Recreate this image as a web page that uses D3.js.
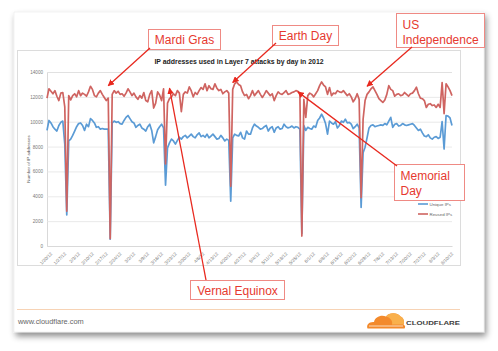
<!DOCTYPE html>
<html>
<head>
<meta charset="utf-8">
<script src="https://cdnjs.cloudflare.com/ajax/libs/d3/7.8.5/d3.min.js"></script>
<style>
body { margin: 0; background: #fff; }
svg { display: block; }
</style>
</head>
<body>
<svg id="chart" width="498" height="351"></svg>
<script>
var width = 498
var height = 351
var plot = { left: 47, right: 452, top: 72, bottom: 246 }

// data: one value per day, starting 1/20/2012
var firstDay = new Date(2012, 0, 20)
var reusedIPs = [
  11900, 12650, 12450, 12250, 12500, 12050, 11700, 12300, 12350, 11200,
  2800,
  12100, 11750, 12100, 12250, 12000, 12500, 12100, 12300, 12200, 12050, 12400, 12850, 12600, 12100, 12000, 12300, 12500, 12200, 11950, 11700, 11900,
  600,
  12200, 12500, 12300, 12450, 12200, 12250, 12050, 12300, 12650, 12400, 12100, 12300, 12000, 11800, 12100, 11900, 12350, 11700, 11600, 12200, 12500, 11100, 11500, 12400, 12150, 11700, 12650,
  6600,
  11500, 11850, 12000, 12250, 12100, 12500, 12300, 10800, 12200, 12400, 12300, 12800, 12500, 12000, 12350, 12200, 12500, 12750, 12600, 13050, 12500, 12900, 12650, 12600, 13050, 12700, 12500, 12600, 12250, 12400, 12500, 12300,
  4800,
  12600, 13050, 13200, 13000, 12900, 12400, 12100, 12200, 11850, 12100, 12500, 12100, 12300, 12500, 12200, 11950, 12200, 12500, 12300, 12100, 12250, 11700, 12100, 12400, 12250, 12200, 12350, 12500, 12200, 12250, 12350, 12400, 12500, 12450, 12300,
  800,
  11800, 10350, 12100, 12300, 12200, 12000, 12250, 12500, 12900, 13200, 12950, 12800, 12200, 12750, 12100, 12300, 12250, 12500, 12400, 12350, 12500, 12300, 12100, 12250, 12000, 11600, 11850, 12250, 11800,
  3900,
  10200, 11700, 12200, 12400, 12650, 12800, 12500, 12200, 11850, 11700, 11550, 11750, 12200, 12900, 12600, 12500, 12050, 12200, 12250, 12100, 12150, 12350, 12200, 12050, 12250, 12300, 12500, 12780, 12250, 11900, 11850, 11700, 11150, 11400, 11450, 11300, 11350, 11150, 11400, 11150, 13150, 10650, 13050, 12800, 12500, 12100
]
var uniqueIPs = [
  9300, 10100, 9900, 9600, 9400, 9250, 9700, 9950, 10050, 8200,
  2500,
  8450, 8600, 8900, 9250, 9600, 9850, 9900, 9700, 9300, 9800, 9600, 10250, 10100, 9900, 9550, 9600, 9400, 9450, 9400, 9400, 9400,
  550,
  9900, 10050, 9950, 10000, 9850, 9800, 10100, 10350, 10500, 10250, 10000, 9900, 9550, 9700, 9800, 9500, 9400, 9250, 9600, 9800, 9300, 8300, 8800, 9350, 9600, 9800, 9500,
  4900,
  7900, 8300, 8600, 8450, 8200, 8500, 8750, 8600, 8800, 8900, 8700, 8850, 9000, 8800, 8700, 8950, 9100, 8800, 8900, 8750, 9000, 8700, 8850, 9000, 8800, 8600, 8650, 8900, 8700, 8450, 8600, 8500,
  3600,
  8700, 9000, 8900, 8850, 9150, 8700, 8600, 9250, 9000, 9000, 9500, 9800, 9650, 9550, 9400, 9450, 9600, 9700, 9250, 9500, 9600, 9150, 9500, 9600, 9400, 9450, 9800, 9600, 9500, 9550, 9650, 9500, 9600, 9550, 9400,
  1000,
  9700, 9300, 9550, 9450, 9400, 9650, 9550, 10100, 10300, 10600, 10300, 9850, 9000, 10050, 9900, 9800, 10000, 9500, 9700, 10050, 9950, 10200, 9900, 9950, 9800, 9450, 9600, 9800, 9500,
  3100,
  7500, 7950, 8700, 9500, 9700, 9750, 9600, 9650, 9700, 9750, 9700, 9850, 9750, 10050, 10350, 9550, 9800, 9850, 9650, 9700, 9850, 9750, 9700, 9750, 9800, 9850, 9700, 9500, 9300, 9400, 9100, 8850, 8800, 8950, 8700, 8600, 8750, 8800, 8650, 8750, 10000, 7800, 10500, 10450, 10300, 9700
]
var yTicks = [0, 2000, 4000, 6000, 8000, 10000, 12000, 14000]
var seriesNames = ["Unique IPs", "Reused IPs"]
var seriesColors = ["#5b9bd5", "#cf6461"]

// callouts: label lines, where the arrow points (date, value)
var noteLabels = [["Mardi Gras"], ["Earth Day"], ["US", "Independence"], ["Memorial", "Day"], ["Vernal Equinox"]]
var noteDates = [new Date(2012, 1, 20), new Date(2012, 3, 23), new Date(2012, 5, 30), new Date(2012, 4, 26), new Date(2012, 2, 22)]
var noteValues = [12900, 13150, 12850, 12400, 12700]

var svg = d3.select("#chart")

var defs = svg.append("defs")
var shadow = defs.append("filter").attr("id", "shadow")
  .attr("x", "-5%").attr("y", "-5%").attr("width", "115%").attr("height", "120%")
shadow.append("feDropShadow").attr("dx", 2).attr("dy", 4).attr("stdDeviation", 3)
  .attr("flood-color", "#000").attr("flood-opacity", 0.45)
defs.append("marker").attr("id", "arrow")
  .attr("viewBox", "0 0 10 10").attr("refX", 9).attr("refY", 5)
  .attr("markerWidth", 5).attr("markerHeight", 5).attr("orient", "auto")
  .append("path").attr("d", "M0,0 L10,5 L0,10 z").attr("fill", "#e8291f")

// slide
svg.append("rect").attr("x", 14).attr("y", 12).attr("width", 470).attr("height", 320)
  .attr("fill", "#fff").attr("stroke", "#e6e6e6").attr("stroke-width", 0.5)
  .attr("filter", "url(#shadow)")

// chart area
svg.append("rect").attr("x", 17.5).attr("y", 50.5).attr("width", 443).attr("height", 215)
  .attr("fill", "#fff").attr("stroke", "#dcdcdc").attr("stroke-width", 1)

var lastDay = d3.timeDay.offset(firstDay, reusedIPs.length - 1)
var xScale = d3.scaleTime().domain([firstDay, lastDay]).range([plot.left, plot.right])
var yScale = d3.scaleLinear().domain([0, 14000]).range([plot.bottom, plot.top])

// gridlines + y labels
var yAxis = d3.axisLeft(yScale).tickValues(yTicks).tickFormat(d3.format("d"))
  .tickSize(-(plot.right - plot.left)).tickPadding(4)
var gy = svg.append("g").attr("transform", "translate(" + plot.left + ",0)").call(yAxis)
gy.select(".domain").attr("stroke", "#d9d9d9")
gy.selectAll(".tick line").attr("stroke", "#e3e3e3").attr("stroke-width", 0.8)
gy.selectAll(".tick text").attr("fill", "#777").attr("font-size", 4.6)
  .attr("font-family", "Liberation Sans, Arial, sans-serif")

// x axis
var xTicks = d3.timeDay.range(firstDay, d3.timeDay.offset(lastDay, 1), 7)
var xAxis = d3.axisBottom(xScale).tickValues(xTicks).tickFormat(d3.timeFormat("%-m/%-d/%y")).tickSize(0)
var gx = svg.append("g").attr("transform", "translate(0," + plot.bottom + ")").call(xAxis)
gx.select(".domain").attr("stroke", "#d9d9d9")
gx.selectAll(".tick text").attr("fill", "#777").attr("font-size", 4.6)
  .attr("font-family", "Liberation Sans, Arial, sans-serif")
  .attr("text-anchor", "end").attr("dy", 0)
  .attr("transform", "translate(3,6) rotate(-45)")

// titles
svg.append("text").attr("x", 239).attr("y", 63.5).attr("text-anchor", "middle")
  .attr("font-family", "Liberation Sans, Arial, sans-serif").attr("font-weight", "bold")
  .attr("font-size", 6.9).attr("fill", "#222")
  .text("IP addresses used in Layer 7 attacks by day in 2012")
svg.append("text").attr("transform", "translate(29.5," + ((plot.top + plot.bottom) / 2) + ") rotate(-90)")
  .attr("text-anchor", "middle").attr("font-family", "Liberation Sans, Arial, sans-serif")
  .attr("font-size", 4.4).attr("fill", "#555").text("Number of IP addresses")

// lines
var line = d3.line()
  .x(function (d, i) { return xScale(d3.timeDay.offset(firstDay, i)) })
  .y(function (d) { return yScale(d) })
  .curve(d3.curveLinear)
var allSeries = [uniqueIPs, reusedIPs]
svg.append("g").selectAll("path").data(allSeries).enter().append("path")
  .attr("d", line)
  .attr("fill", "none")
  .attr("stroke", function (d, i) { return seriesColors[i] })
  .attr("stroke-width", 1.7)
  .attr("stroke-linejoin", "round")

// legend
var legend = svg.append("g").attr("transform", "translate(418,204)")
seriesNames.forEach(function (name, i) {
  legend.append("line").attr("x1", 0).attr("x2", 10).attr("y1", i * 10).attr("y2", i * 10)
    .attr("stroke", seriesColors[i]).attr("stroke-width", 1.6)
  legend.append("text").attr("x", 11.5).attr("y", i * 10 + 1.6)
    .attr("font-family", "Liberation Sans, Arial, sans-serif").attr("font-size", 4.4)
    .attr("fill", "#666").text(name)
})

// callout boxes (x, y, w, h) and arrow starts
var boxes = [[148.5, 29.5, 72, 20], [272.5, 25.5, 66, 20], [396.5, 13.5, 88, 34], [394.5, 164.5, 70, 36], [190.5, 280.5, 94, 19]]
var arrowFrom = [[150, 48], [276, 43], [412, 47], [397, 166], [206, 280]]
var notes = svg.append("g")
noteLabels.forEach(function (lines, i) {
  var b = boxes[i]
  notes.append("rect").attr("x", b[0]).attr("y", b[1]).attr("width", b[2]).attr("height", b[3])
    .attr("fill", "#fff").attr("stroke", "#ef8a84").attr("stroke-width", 1)
  lines.forEach(function (t, j) {
    notes.append("text")
      .attr("x", lines.length > 1 ? b[0] + 6 : b[0] + b[2] / 2)
      .attr("y", lines.length > 1 ? b[1] + 15 + j * 15 : b[1] + b[3] / 2 + 4.5)
      .attr("text-anchor", lines.length > 1 ? "start" : "middle")
      .attr("font-family", "Liberation Sans, Arial, sans-serif").attr("font-size", 12)
      .attr("fill", "#e6392f").text(t)
  })
  notes.append("line")
    .attr("x1", arrowFrom[i][0]).attr("y1", arrowFrom[i][1])
    .attr("x2", xScale(noteDates[i])).attr("y2", yScale(noteValues[i]))
    .attr("stroke", "#e8291f").attr("stroke-width", 1.3)
    .attr("marker-end", "url(#arrow)")
})

// footer
svg.append("line").attr("x1", 17).attr("x2", 460).attr("y1", 309.5).attr("y2", 309.5)
  .attr("stroke", "#f7d3b5").attr("stroke-width", 1)
svg.append("text").attr("x", 18).attr("y", 324).attr("font-family", "Liberation Sans, Arial, sans-serif")
  .attr("font-size", 7.4).attr("fill", "#666").text("www.cloudflare.com")
var logo = svg.append("g")
logo.append("path")
  .attr("d", "M367.5,328.5 C366,324.5 369.5,321.5 374,322 C375,317 381,314.5 386,316.5 C389,312.5 397,312 400.5,316.5 C403.5,317.5 405,322 403.5,324.5 C405.5,325.5 405.5,327.5 404.5,328.5 Z")
  .attr("fill", "#f38a2c")
logo.append("path")
  .attr("d", "M386,316.5 C389,312.5 397,312 400.5,316.5 C403.5,317.5 405,322 403.5,324.5 L392,324.5 C393,320.5 390,317.5 386,316.5 Z")
  .attr("fill", "#f9b04c")
logo.append("path").attr("d", "M369,326 L403,326").attr("stroke", "#fff").attr("stroke-width", 0.7)
svg.append("text").attr("x", 406).attr("y", 324.5).attr("font-family", "Liberation Sans, Arial, sans-serif")
  .attr("font-weight", "bold").attr("font-size", 6.2).attr("fill", "#404040")
  .attr("textLength", 54).attr("lengthAdjust", "spacingAndGlyphs").text("CLOUDFLARE")
</script>
</body>
</html>
